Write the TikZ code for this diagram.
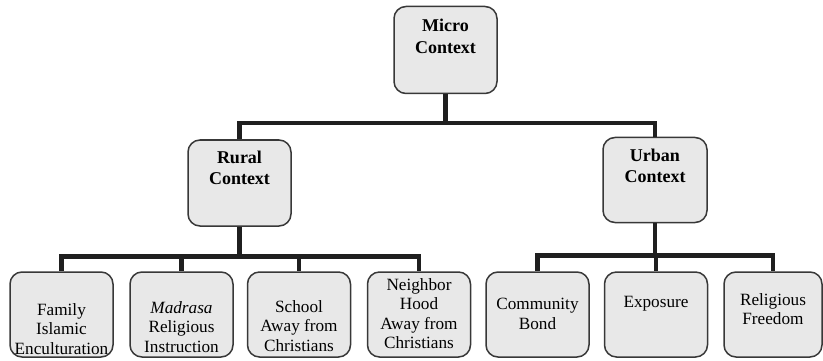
\documentclass[tikz,border=0pt]{standalone}
\usepackage{fontspec}
\setmainfont{Liberation Serif}
\begin{document}
\begin{tikzpicture}[x=1pt,y=-1pt,
  box/.style={draw=black!78, line width=1.5pt, fill=gray!18, rounded corners=12pt,
    minimum width=103pt, minimum height=85pt, inner sep=0pt},
  btxt/.style={anchor=north, align=center, inner sep=0pt, font=\fontsize{18}{21.5}\selectfont\bfseries},
  rtxt/.style={anchor=north, align=center, inner sep=0pt, font=\fontsize{17.2}{19.5}\selectfont},
  conn/.style={draw=black!88, line width=4.5pt}]
\useasboundingbox (0,0) rectangle (823,361);
% boxes
\node[box, minimum height=87pt] (micro) at (445.5,50) {};
\node[box, minimum height=86pt] (rural) at (239.5,183) {};
\node[box, minimum width=104pt] (urban) at (655,180) {};
\node[box] (family) at (61.5,314.5) {};
\node[box] (madrasa) at (181.5,314.5) {};
\node[box] (school) at (299,314.5) {};
\node[box] (neighbor) at (419,314.5) {};
\node[box] (community) at (537.5,314.5) {};
\node[box] (exposure) at (656,314.5) {};
\node[box, minimum width=98pt] (freedom) at (773,314.5) {};
% connectors
\draw[conn] (micro.south) -- ++(0,29) -| (rural.north);
\draw[conn] (micro.south) ++(0,29) -| (urban.north);
\draw[conn] (rural.south) -- ++(0,29.5) -| (family.north);
\draw[conn] (rural.south) ++(0,29.5) -| (madrasa.north);
\draw[conn] (rural.south) ++(0,29.5) -| (school.north);
\draw[conn] (rural.south) ++(0,29.5) -| (neighbor.north);
\draw[conn] (urban.south) -- ++(0,32) -| (community.north);
\draw[conn] (urban.south) ++(0,32) -| (exposure.north);
\draw[conn] (urban.south) ++(0,32) -| (freedom.north);
% texts
\node[btxt] (microT) at (445.5,19) {Micro\\Context};
\node[btxt] (ruralT) at (239.5,150.5) {Rural\\Context};
\node[btxt] (urbanT) at (655,148.5) {Urban\\Context};
\node[rtxt] (familyT) at (61.5,303) {Family\\Islamic\\Enculturation};
\node[rtxt] (madrasaT) at (181.5,301) {\textit{Madrasa}\\Religious\\Instruction};
\node[rtxt] (schoolT) at (299,300) {School\\Away from\\Christians};
\node[rtxt] (neighborT) at (419,278) {Neighbor\\Hood\\Away from\\Christians};
\node[rtxt] (communityT) at (537.5,298) {Community\\Bond};
\node[rtxt] (exposureT) at (656,296.5) {Exposure};
\node[rtxt] (freedomT) at (773,293) {Religious\\Freedom};
\end{tikzpicture}
\end{document}
